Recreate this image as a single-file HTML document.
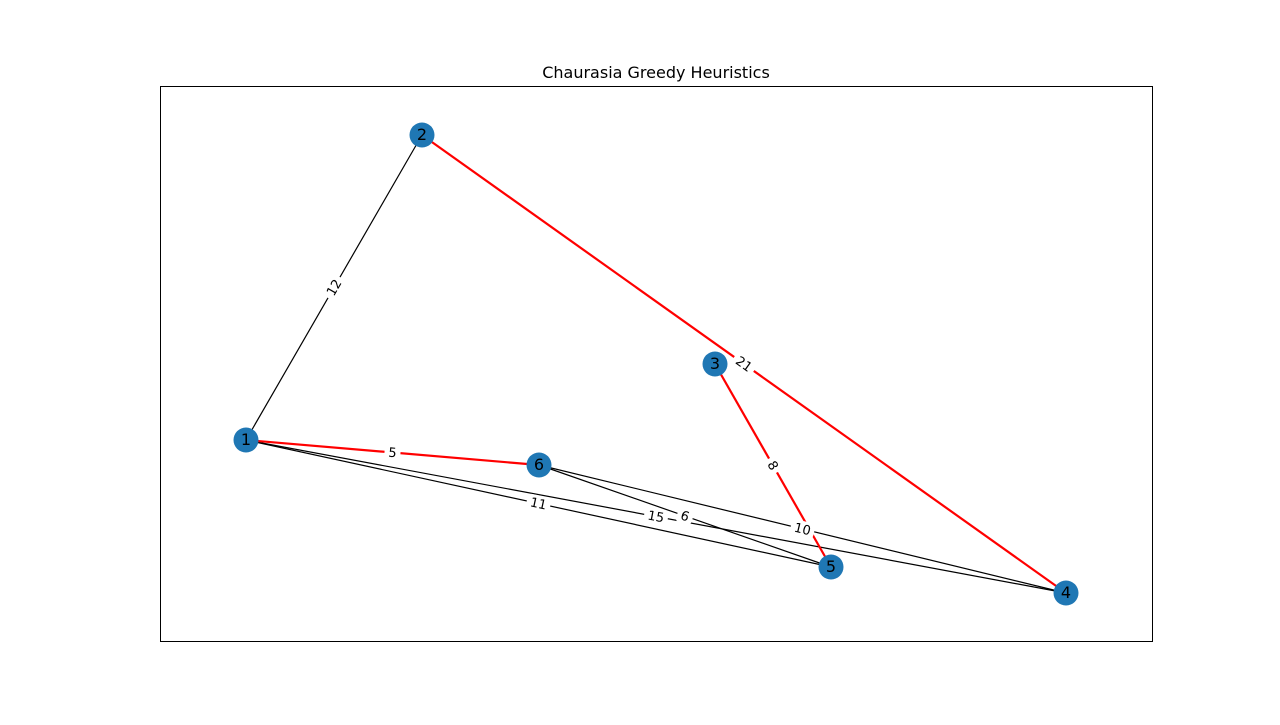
<!DOCTYPE html>
<html><head><meta charset="utf-8"><style>
body{margin:0;background:#fff}
svg text{font-family:"DejaVu Sans","Liberation Sans",sans-serif}
</style></head><body>
<svg id="c" width="1280" height="720">
<rect x="0" y="0" width="1280" height="720" fill="#fff"/>
<text x="656" y="78" text-anchor="middle" font-size="16">Chaurasia Greedy Heuristics</text>
<rect x="160.5" y="86.5" width="992" height="555" fill="none" stroke="#000" stroke-width="1"/>
<g id="edges"></g><g id="labels"></g><g id="nodes"></g>
</svg>
<script>
const nodeIds=["1","2","3","4","5","6"];
const nodeX=[246,422,715,1066,831,539];
const nodeY=[440,135,364,593,567,465];
const edgeFrom=["1","1","1","6","6","2","3","1"];
const edgeTo=["2","5","4","5","4","4","5","6"];
const edgeWeights=[12,11,15,6,10,21,8,5];
const edgeInPath=[false,false,false,false,false,true,true,true];
const NS="http://www.w3.org/2000/svg";
function px(id){return nodeX[nodeIds.indexOf(id)];}
function py(id){return nodeY[nodeIds.indexOf(id)];}
const E=document.getElementById('edges'),L=document.getElementById('labels'),N=document.getElementById('nodes');
const order=[...edgeFrom.keys()].sort((a,b)=>edgeInPath[a]-edgeInPath[b]);
order.forEach(i=>{
  const l=document.createElementNS(NS,'line');
  l.setAttribute('x1',px(edgeFrom[i]));l.setAttribute('y1',py(edgeFrom[i]));
  l.setAttribute('x2',px(edgeTo[i]));l.setAttribute('y2',py(edgeTo[i]));
  l.setAttribute('stroke',edgeInPath[i]?'#ff0000':'#000');
  l.setAttribute('stroke-width',edgeInPath[i]?2.2:1.2);
  
  
  E.appendChild(l);
});
edgeFrom.forEach((f,i)=>{
  const x1=px(f),y1=py(f),x2=px(edgeTo[i]),y2=py(edgeTo[i]);
  const mx=(x1+x2)/2,my=(y1+y2)/2;
  let a=Math.atan2(y2-y1,x2-x1)*180/Math.PI;
  if(a>90)a-=180;if(a<-90)a+=180;
  const g=document.createElementNS(NS,'g');
  g.setAttribute('transform',`translate(${mx},${my}) rotate(${a})`);
  
  
  const s=String(edgeWeights[i]);const w=s.length*8+8;
  const r=document.createElementNS(NS,'rect');
  r.setAttribute('x',-w/2);r.setAttribute('y',-8);r.setAttribute('width',w);r.setAttribute('height',16);
  r.setAttribute('rx',4);r.setAttribute('fill','#fff');
  g.appendChild(r);
  const t=document.createElementNS(NS,'text');
  t.setAttribute('text-anchor','middle');t.setAttribute('y',4.5);t.setAttribute('font-size','13');
  t.textContent=s;g.appendChild(t);
  L.appendChild(g);
});
nodeIds.forEach((id,i)=>{
  const g=document.createElementNS(NS,'g');
  
  
  const c=document.createElementNS(NS,'circle');
  c.setAttribute('cx',nodeX[i]);c.setAttribute('cy',nodeY[i]);c.setAttribute('r',12.5);c.setAttribute('fill','#1f77b4');
  g.appendChild(c);
  const t=document.createElementNS(NS,'text');
  t.setAttribute('x',nodeX[i]);t.setAttribute('y',nodeY[i]+5);t.setAttribute('text-anchor','middle');t.setAttribute('font-size','16');
  t.textContent=id;g.appendChild(t);
  N.appendChild(g);
});
</script>
</body></html>
